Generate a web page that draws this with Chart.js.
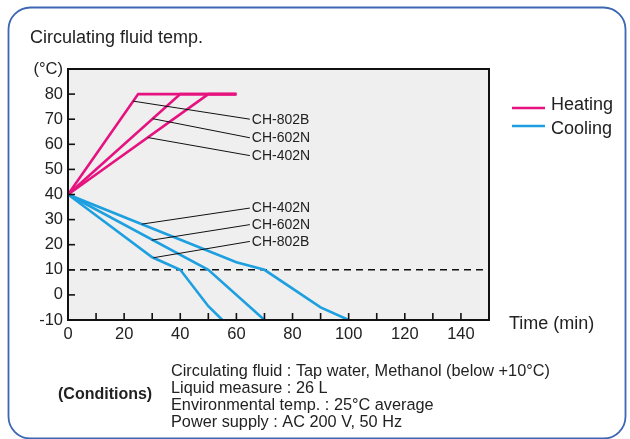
<!DOCTYPE html>
<html><head><meta charset="utf-8">
<script src="https://cdn.jsdelivr.net/npm/chart.js@4"></script>
<style>html,body{margin:0;padding:0;background:#fff;}#wrap{width:630px;height:439px;position:relative;}</style>
</head><body><div id="wrap"><canvas id="c" width="630" height="439"></canvas></div>
<script>
// ---- data ----
const heat802 = [[0,40],[25,80],[60,80]];
const heat602 = [[0,40],[40,80],[60,80]];
const heat402 = [[0,40],[50,80],[60,80]];
const cool402 = [[0,40],[60,13],[70,10],[90,-5],[100,-10]];
const cool602 = [[0,40],[50,10],[70,-10]];
const cool802 = [[0,40],[30,15],[40,10],[50,-4.5],[55,-10]];
const refLine = [[0,10],[150,10]];
const modelLabels = ['CH-802B','CH-602N','CH-402N','CH-402N','CH-602N','CH-802B'];
// leader line: point on curve -> label end
const leaderFrom = [[23.2,77.2],[30.2,70.2],[28.4,62.7],[26.3,28.2],[29.8,21.8],[30.4,14.8]];
const leaderTo = [[64.8,70.0],[64.8,62.6],[64.8,55.5],[64.8,34.6],[64.8,28.0],[64.8,21.3]];
const xTicks = [0,10,20,30,40,50,60,70,80,90,100,110,120,130,140,150];
const yTicks = [-10,0,10,20,30,40,50,60,70,80,90];
const legendNames = ['Heating','Cooling'];
const conditionLines = ['Circulating fluid : Tap water, Methanol (below +10°C)','Liquid measure : 26 L','Environmental temp. : 25°C average','Power supply : AC 200 V, 50 Hz'];

const PINK = '#e5127f', BLUE = '#1d9fe0';
const FONT = '"Liberation Sans", Arial, Helvetica, sans-serif';
const pts = a => a.map(p => ({x:p[0], y:p[1]}));
const ds = (d,c,w) => ({data:pts(d), borderColor:c, borderWidth:w||2.6, pointRadius:0, fill:false, tension:0, borderJoinStyle:'miter'});

const decor = {
  id:'decor',
  beforeDraw(chart){
    const ctx = chart.ctx; const a = chart.chartArea;
    ctx.save();
    ctx.fillStyle = '#fff'; ctx.fillRect(0,0,chart.width,chart.height);
    ctx.strokeStyle = '#3d66b3'; ctx.lineWidth = 1.8;
    ctx.beginPath(); ctx.roundRect(8.5,7.5,617,431,22); ctx.stroke();
    ctx.fillStyle = '#efefef'; ctx.fillRect(a.left,a.top,a.right-a.left,a.bottom-a.top);
    ctx.restore();
  },
  afterDatasetsDraw(chart){
    const ctx = chart.ctx; const a = chart.chartArea;
    const xs = chart.scales.x, ys = chart.scales.y;
    ctx.save();
    ctx.strokeStyle = '#111'; ctx.lineWidth = 1;
    ctx.fillStyle = '#222'; ctx.font = '14px '+FONT; ctx.textBaseline = 'middle'; ctx.textAlign='left';
    for (let i=0;i<modelLabels.length;i++){
      const x1 = xs.getPixelForValue(leaderFrom[i][0]), y1 = ys.getPixelForValue(leaderFrom[i][1]);
      const x2 = xs.getPixelForValue(leaderTo[i][0]), y2 = ys.getPixelForValue(leaderTo[i][1]);
      ctx.beginPath(); ctx.moveTo(x1,y1); ctx.lineTo(x2,y2); ctx.stroke();
      ctx.fillText(modelLabels[i], x2+2, y2+0.5);
    }
    ctx.strokeStyle = '#111'; ctx.lineWidth = 2;
    ctx.strokeRect(a.left,a.top,a.right-a.left,a.bottom-a.top);
    ctx.lineWidth = 1.6;
    xTicks.forEach(v=>{ const px = xs.getPixelForValue(v); ctx.beginPath(); ctx.moveTo(px,a.bottom); ctx.lineTo(px,a.bottom-7); ctx.stroke(); });
    yTicks.forEach(v=>{ const py = ys.getPixelForValue(v); ctx.beginPath(); ctx.moveTo(a.left,py); ctx.lineTo(a.left+7,py); ctx.stroke(); });
    ctx.fillStyle = '#222'; ctx.textBaseline='alphabetic';
    ctx.font = '18px '+FONT;
    ctx.fillText('Circulating fluid temp.', 30, 42.5);
    ctx.fillText('Time (min)', 509, 328.5);
    const cols = [PINK, BLUE];
    const lineY = [108,126], textY = [105,129];
    legendNames.forEach((n,i)=>{
      ctx.strokeStyle = cols[i]; ctx.lineWidth = 2.6;
      ctx.beginPath(); ctx.moveTo(512,lineY[i]); ctx.lineTo(545,lineY[i]); ctx.stroke();
      ctx.fillStyle = '#222'; ctx.textBaseline='middle'; ctx.fillText(n, 551, textY[i]);
    });
    ctx.textBaseline='alphabetic';
    ctx.font = 'bold 16px '+FONT; ctx.fillText('(Conditions)', 58, 399);
    ctx.font = '16.3px '+FONT;
    conditionLines.forEach((t,i)=> ctx.fillText(t, 171, 376 + i*17));
    ctx.restore();
  }
};

new Chart(document.getElementById('c'), {
  type:'line',
  data:{datasets:[
    ds(heat802,PINK), ds(heat602,PINK), ds(heat402,PINK),
    ds(cool402,BLUE), ds(cool602,BLUE), ds(cool802,BLUE),
    Object.assign(ds(refLine,'#111',1.6),{borderDash:[7,5]})
  ]},
  options:{
    responsive:false, animation:false, devicePixelRatio:1,
    layout:{padding:{left:0,top:69,right:141,bottom:0}},
    plugins:{legend:{display:false}, tooltip:{enabled:false}},
    scales:{
      x:{type:'linear', min:0, max:150,
        afterBuildTicks(s){ s.ticks = xTicks.map(v=>({value:v})); },
        afterFit(s){ s.height = 119; },
        grid:{display:false, drawTicks:false}, border:{display:false},
        ticks:{padding:5, color:'#222', font:{size:16.5, family:FONT}, maxRotation:0, autoSkip:false,
          callback:v => (v%20===0 && v<150) ? String(v) : ''}},
      y:{type:'linear', min:-10, max:90,
        afterBuildTicks(s){ s.ticks = yTicks.map(v=>({value:v})); },
        afterFit(s){ s.width = 68; },
        grid:{display:false, drawTicks:false}, border:{display:false},
        ticks:{padding:5, color:'#222', font:{size:16.5, family:FONT}, autoSkip:false,
          callback:v => v===90 ? '(°C)' : String(v)}}
    }
  },
  plugins:[decor]
});
</script></body></html>
